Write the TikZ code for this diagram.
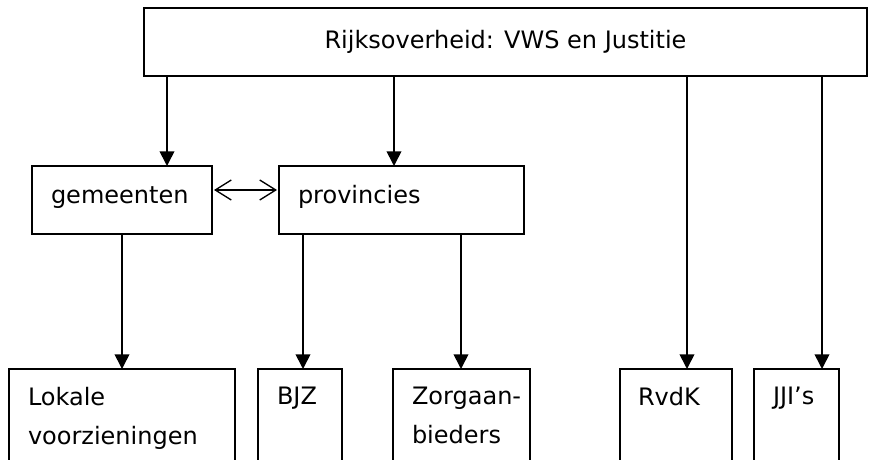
\documentclass[tikz,border=0pt]{standalone}
\usepackage{fontspec}
\setmainfont{DejaVu Sans}
\usetikzlibrary{arrows.meta}
\begin{document}
\begin{tikzpicture}[x=0.75pt,y=-0.75pt,
  box/.style={draw=black, line width=1.25pt, fill=none, inner sep=0pt, outer sep=0pt, anchor=north west},
  txt/.style={inner sep=0pt, outer sep=0pt, font=\fontsize{18}{29.25}\selectfont},
  ltxt/.style={txt, align=left, anchor=north west},
  arr/.style={line width=1.25pt, -{Triangle[length=11pt,width=11pt]}},
  dbl/.style={line width=1pt, {Straight Barb[length=12pt,width=15pt]}-{Straight Barb[length=12pt,width=15pt]}, shorten <=1.5pt, shorten >=1.5pt}]
\useasboundingbox (0,0) rectangle (879,460);
\clip (0,0) rectangle (879,460);
% top
\node[box, minimum width=723*0.75pt, minimum height=68*0.75pt] (rijk) at (144,8) {};
\node[txt] (rijkt) at (rijk.center) {Rijksoverheid: VWS en Justitie};
% middle
\node[box, minimum width=180*0.75pt, minimum height=68*0.75pt] (gem) at (32,166) {};
\node[txt, anchor=base west] (gemt) at (51,203) {gemeenten};
\node[box, minimum width=245*0.75pt, minimum height=68*0.75pt] (prov) at (279,166) {};
\node[txt, anchor=base west] (provt) at (298,203) {provincies};
% bottom
\node[box, minimum width=226*0.75pt, minimum height=120*0.75pt] (lok) at (9,369) {};
\node[ltxt] (lokt) at (28,387) {Lokale\\voorzieningen};
\node[box, minimum width=84*0.75pt, minimum height=120*0.75pt] (bjz) at (258,369) {};
\node[ltxt] (bjzt) at (277,387) {BJZ};
\node[box, minimum width=137*0.75pt, minimum height=120*0.75pt] (zorg) at (393,369) {};
\node[ltxt] (zorgt) at (412,387) {Zorgaan-\\bieders};
\node[box, minimum width=112*0.75pt, minimum height=120*0.75pt] (rvdk) at (620,369) {};
\node[ltxt] (rvdkt) at (638,387) {RvdK};
\node[box, minimum width=85*0.75pt, minimum height=120*0.75pt] (jji) at (754,369) {};
\node[ltxt] (jjit) at (773,387) {JJI’s};
% x positions of connectors
\coordinate (xg) at (167,0);
\coordinate (xp) at (394,0);
\coordinate (xr) at (687,0);
\coordinate (xj) at (822,0);
\coordinate (xb) at (303,0);
\coordinate (xz) at (461,0);
% connectors
\draw[arr] (xg |- rijk.south) -- (xg |- gem.north);
\draw[arr] (xp |- rijk.south) -- (xp |- prov.north);
\draw[arr] (xr |- rijk.south) -- (xr |- rvdk.north);
\draw[arr] (xj |- rijk.south) -- (xj |- jji.north);
\draw[arr] (gem.south) -- (gem.south |- lok.north);
\draw[arr] (xb |- prov.south) -- (xb |- bjz.north);
\draw[arr] (xz |- prov.south) -- (xz |- zorg.north);
\draw[dbl] ([yshift=7.5pt]gem.east) -- ([yshift=7.5pt]prov.west);
\end{tikzpicture}
\end{document}
